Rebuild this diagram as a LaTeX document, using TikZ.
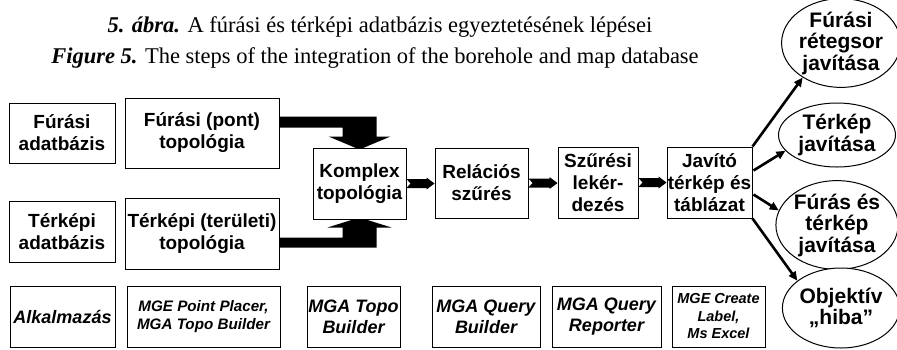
\documentclass[tikz,border=0pt]{standalone}
\usepackage{fontspec}
\setmainfont{Liberation Serif}
\setsansfont{Liberation Sans}
\usetikzlibrary{shapes.geometric,arrows.meta,calc,backgrounds}
\begin{document}
\begin{tikzpicture}[x=1pt,y=-1pt,
  box/.style={draw,line width=1pt,fill=white,inner sep=0pt,align=center,
    font=\sffamily\bfseries\fontsize{19}{22}\selectfont},
  appbox/.style={draw,line width=1pt,fill=white,inner sep=0pt,align=center,
    minimum height=61pt,
    font=\sffamily\bfseries\itshape\fontsize{18}{21}\selectfont},
  oval/.style={ellipse,draw,line width=1pt,fill=white,inner sep=0pt,align=center,
    font=\sffamily\bfseries\fontsize{21}{21.5}\selectfont},
  fatline/.style={line width=2.6pt,-{Triangle[length=9pt,width=8pt]}},
  caption/.style={anchor=base,inner sep=0pt,font=\fontsize{22.5}{25}\selectfont}
]
\useasboundingbox (0,0) rectangle (897,349);

% caption
\node[caption] (cap1) at (380,32) {\textbf{\textit{5. ábra.}} A fúrási és térképi adatbázis egyeztetésének lépései};
\node[caption] (cap2) at (375,63) {\textbf{\textit{Figure 5.}} The steps of the integration of the borehole and map database};

% main boxes
\node[box,minimum width=106pt,minimum height=60pt] (fa) at (62,133) {Fúrási\\adatbázis};
\node[box,minimum width=154pt,minimum height=70pt] (fp) at (202,133) {Fúrási (pont)\\topológia};
\node[box,minimum width=106pt,minimum height=61pt] (ta) at (62,231.5) {Térképi\\adatbázis};
\node[box,minimum width=154pt,minimum height=71pt] (tp) at (202,233.5) {Térképi (területi)\\topológia};
\node[box,minimum width=93pt,minimum height=71pt] (kt) at (359.5,183.5) {Komplex\\topológia};
\node[box,minimum width=93pt,minimum height=70pt] (rs) at (481.5,183) {Relációs\\szűrés};
\node[box,minimum width=80pt,minimum height=71pt] (sl) at (598,182.5) {Szűrési\\lekér-\\dezés};
\node[box,minimum width=85pt,minimum height=71pt] (jt) at (709.5,182.5) {Javító\\térkép és\\táblázat};

% application row
\node[appbox,minimum width=105pt] (al) at (62.5,316.5) {Alkalmazás};
\node[appbox,minimum width=153pt,font=\sffamily\bfseries\itshape\fontsize{15.2}{18}\selectfont] (b1) at (203.5,316.5) {MGE Point Placer,\\MGA Topo Builder};
\node[appbox,minimum width=93pt] (b2) at (353.5,316.5) {MGA Topo\\Builder};
\node[appbox,minimum width=108pt] (b3) at (486,316.5) {MGA Query\\Builder};
\node[appbox,minimum width=109pt] (b4) at (606.5,316.5) {MGA Query\\Reporter};
\node[appbox,minimum width=93pt,font=\sffamily\bfseries\itshape\fontsize{14.5}{17.5}\selectfont] (b5) at (718.5,316.5) {MGE Create\\Label,\\Ms Excel};

% ellipses
\node[oval,minimum width=108pt,minimum height=85pt] (e1) at (841,43) {Fúrási\\rétegsor\\javítása};
\node[oval,minimum width=117pt,minimum height=64pt] (e2) at (837,135) {Térkép\\javítása};
\node[oval,minimum width=117pt,minimum height=70pt] (e3) at (837,225) {Fúrás és\\térkép\\javítása};
\node[oval,minimum width=108pt,minimum height=80pt] (e4) at (841,308) {Objektív\\„hiba”};

% fat arrows into Komplex topológia
\begin{scope}[on background layer]
\fill let \p1=(fp.east), \p2=(kt.north) in
  (\x1,\y2+31pt) -- (\x2+17pt,\y2+31pt) -- (\x2+17pt,\y2+11pt) -- (\x2+31pt,\y2+11pt)
  -- (\x2,\y2-2pt) -- (\x2-31pt,\y2+11pt) -- (\x2-17pt,\y2+11pt) -- (\x2-17pt,\y2+20pt)
  -- (\x1,\y2+20pt) -- cycle;
\fill let \p1=(tp.east), \p2=(kt.south) in
  (\x1,\y2-28pt) -- (\x2+17pt,\y2-28pt) -- (\x2+17pt,\y2-8pt) -- (\x2+32pt,\y2-8pt)
  -- (\x2,\y2+2pt) -- (\x2-32pt,\y2-8pt) -- (\x2-17pt,\y2-8pt) -- (\x2-17pt,\y2-18pt)
  -- (\x1,\y2-18pt) -- cycle;
% small notched arrows
\foreach \a/\b in {kt/rs,rs/sl,sl/jt}{
  \fill let \p1=(\a.east), \p2=(\b.west) in
    (\x1,\y1+4.5pt) -- (\x2-8pt,\y1+4.5pt) -- (\x2-8pt,\y1+6pt) -- (\x2,\y1)
    -- (\x2-8pt,\y1-6pt) -- (\x2-8pt,\y1-4.5pt) -- (\x1,\y1-4.5pt) -- (\x1+4pt,\y1) -- cycle;
}
\end{scope}

% result arrows
\draw[fatline] (jt.north east) -- (e1.222);
\draw[fatline] ($(jt.east)+(1,-12)$) -- (e2.197);
\draw[fatline] ($(jt.east)+(1,12)$) -- (e3.166);
\draw[fatline] (jt.south east) -- (e4.148);
\end{tikzpicture}
\end{document}
